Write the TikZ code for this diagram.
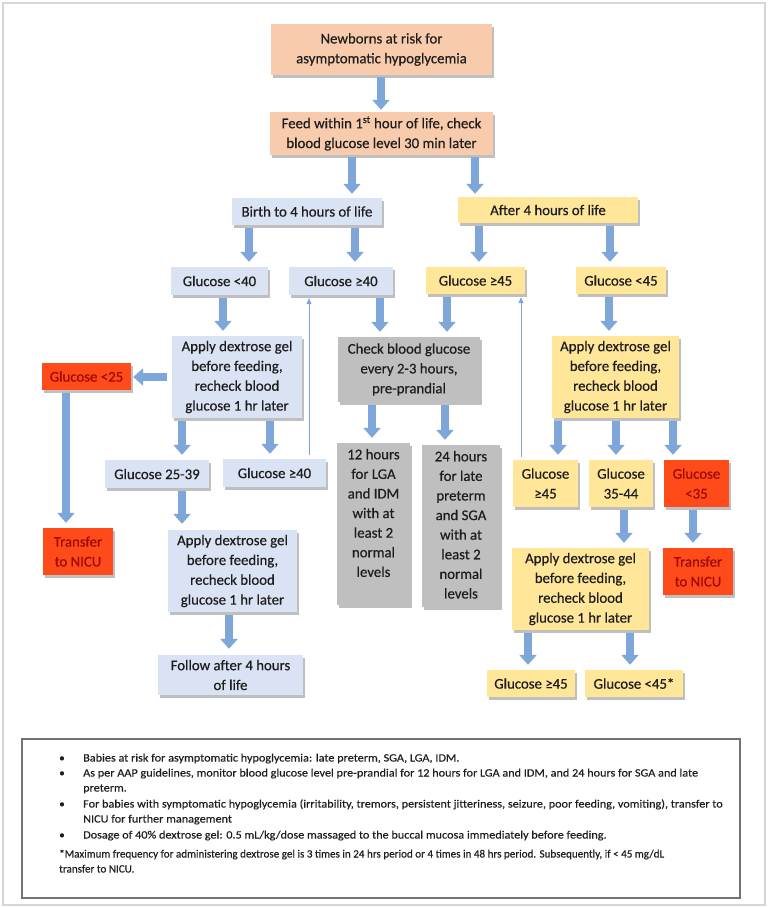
\documentclass[tikz,border=0pt]{standalone}
\usepackage{fontspec}
\setmainfont{Carlito}
\newfontfamily\boxfont{Carlito}[FakeBold=0.5]
\newfontfamily\notefont{Carlito}[FakeBold=0.3]
\usetikzlibrary{arrows.meta,shadows}
\definecolor{peach}{HTML}{F8CBAD}
\definecolor{lblue}{HTML}{DAE3F3}
\definecolor{lyellow}{HTML}{FFE699}
\definecolor{lgrey}{HTML}{BFBFBF}
\definecolor{lred}{HTML}{FF4A1A}
\definecolor{dred}{HTML}{9E0B0B}
\definecolor{arrowblue}{HTML}{7FA6D9}
\definecolor{framegrey}{HTML}{D6D6D6}
\definecolor{txt}{HTML}{1E1E1E}
\tikzset{
  sz/.style 2 args={minimum width=#1pt, minimum height=#2pt},
  box/.style={rectangle, inner sep=0pt, align=center, text=txt,
    font=\boxfont\fontsize{14.8}{19.8}\selectfont,
    drop shadow={shadow xshift=2pt, shadow yshift=-2.5pt, opacity=0.25, fill=black}},
  pbox/.style={box, fill=peach},
  bbox/.style={box, fill=lblue},
  ybox/.style={box, fill=lyellow},
  gbox/.style={box, fill=lgrey},
  rbox/.style={box, fill=lred, text=dred},
  boxtext/.style={inner sep=0pt, align=center, text=txt, font=\boxfont\fontsize{14.8}{19.6}\selectfont},
  blk/.style={draw=arrowblue, line width=7.5pt, -{Triangle[width=17pt,length=10pt]},
    shorten <=3pt, shorten >=5pt},
  thinarrow/.style={draw=arrowblue, line width=0.9pt, -{Triangle[width=5pt,length=6pt]},
    shorten <=3pt, shorten >=3pt},
  note/.style={inner sep=0pt, text=txt, font=\notefont\fontsize{11.2}{13}\selectfont},
}
\newcommand{\bulletline}[1]{\scalebox{1.09}[1]{#1}}
\newcommand{\footline}[1]{\scalebox{0.99}[1]{#1}}
\begin{document}
\begin{tikzpicture}[x=1pt,y=-1pt]
\useasboundingbox (0,0) rectangle (768,908);
\fill[white] (0,0) rectangle (768,908);
\draw[framegrey, line width=2pt] (3,3) rectangle (765,905);

% ---------- nodes ----------
\node[pbox, sz={221}{51}] (n1) at (381.5,49.5) {Newborns at risk for\\asymptomatic hypoglycemia};
\node[pbox, sz={223}{43}] (feed) at (381.5,133.5) {Feed within 1\textsuperscript{st} hour of life, check\\blood glucose level 30 min later};
\node[bbox, sz={150}{27}] (birth) at (307,211.5) {Birth to 4 hours of life};
\node[ybox, sz={180}{26}] (after) at (548,210) {After 4 hours of life};
\node[bbox, sz={97}{28}] (g40l) at (219.5,281) {Glucose <40};
\node[bbox, sz={104}{28}] (g40h) at (341,281) {Glucose ≥40};
\node[ybox, sz={99}{27}] (g45h) at (475.5,280.5) {Glucose ≥45};
\node[ybox, sz={90}{27}] (g45l) at (621,280.5) {Glucose <45};
\node[bbox, sz={130}{82}] (gel1) at (237,377) {Apply dextrose gel\\before feeding,\\recheck blood\\glucose 1 hr later};
\node[gbox, sz={142}{65}] (check) at (409,369.5) {Check blood glucose\\every 2-3 hours,\\pre-prandial};
\node[ybox, sz={127}{82}] (gelr1) at (615.5,377) {Apply dextrose gel\\before feeding,\\recheck blood\\glucose 1 hr later};
\node[rbox, sz={89}{27}] (g25) at (86.5,376.5) {Glucose <25};
\node[rbox, sz={70}{47}] (nicul) at (78,551.5) {Transfer\\to NICU};
\node[bbox, sz={104}{28}] (g2539) at (157,474) {Glucose 25-39};
\node[bbox, sz={103}{28}] (g40b) at (274.5,473) {Glucose ≥40};
\node[bbox, sz={129}{82}] (gel2) at (232.5,571) {Apply dextrose gel\\before feeding,\\recheck blood\\glucose 1 hr later};
\node[bbox, sz={145}{40}] (follow) at (230.5,675) {Follow after 4 hours\\of life};
\node[gbox, sz={73}{162}] (h12) at (373.5,524) {};
\node[boxtext, anchor=north] (h12t) at ([yshift=-6pt]h12.north) {12 hours\\for LGA\\and IDM\\with at\\least 2\\normal\\levels};
\node[gbox, sz={78}{162}] (h24) at (461,526) {};
\node[boxtext, anchor=north] (h24t) at ([yshift=-6pt]h24.north) {24 hours\\for late\\preterm\\and SGA\\with at\\least 2\\normal\\levels};
\node[ybox, sz={65}{47}] (g45s) at (545.5,483.5) {Glucose\\≥45};
\node[ybox, sz={64}{47}] (g3544) at (621,483.5) {Glucose\\35-44};
\node[rbox, sz={65}{47}] (g35) at (696.5,483.5) {Glucose\\<35};
\node[ybox, sz={137}{82}] (gelr2) at (580.5,589) {Apply dextrose gel\\before feeding,\\recheck blood\\glucose 1 hr later};
\node[rbox, sz={70}{47}] (nicur) at (698,571.5) {Transfer\\to NICU};
\node[ybox, sz={88}{27}] (g45b) at (531,683.5) {Glucose ≥45};
\node[ybox, sz={98}{27}] (g45s2) at (634,683.5) {Glucose <45*};

% ---------- arrow x positions ----------
\coordinate (x381) at (381,0);
\coordinate (x352) at (352,0);
\coordinate (x475) at (475,0);
\coordinate (x249) at (249,0);
\coordinate (x355) at (355,0);
\coordinate (x479) at (479,0);
\coordinate (x610) at (610,0);
\coordinate (x223) at (223,0);
\coordinate (x380) at (380,0);
\coordinate (x447) at (447,0);
\coordinate (x609) at (609,0);
\coordinate (x66) at (66,0);
\coordinate (x182) at (182,0);
\coordinate (x270) at (270,0);
\coordinate (x229) at (229,0);
\coordinate (x372) at (372,0);
\coordinate (x445) at (445,0);
\coordinate (x558) at (558,0);
\coordinate (x616) at (616,0);
\coordinate (x673) at (673,0);
\coordinate (x624) at (624,0);
\coordinate (x693) at (693,0);
\coordinate (x528) at (528,0);
\coordinate (x630) at (630,0);
\coordinate (x309) at (309,0);
\coordinate (x521) at (521,0);
\coordinate (y377) at (0,377);

% ---------- block arrows ----------
\draw[blk, shorten <=2pt, shorten >=2pt] (n1.south -| x381) -- (feed.north -| x381);
\draw[blk, shorten <=2pt, shorten >=4pt] (feed.south -| x352) -- (birth.north -| x352);
\draw[blk, shorten <=2pt, shorten >=3pt] (feed.south -| x475) -- (after.north -| x475);
\draw[blk] (birth.south -| x249) -- (g40l.north -| x249);
\draw[blk] (birth.south -| x355) -- (g40h.north -| x355);
\draw[blk] (after.south -| x479) -- (g45h.north -| x479);
\draw[blk] (after.south -| x610) -- (g45l.north -| x610);
\draw[blk] (g40l.south -| x223) -- (gel1.north -| x223);
\draw[blk] (g40h.south -| x380) -- (check.north -| x380);
\draw[blk] (g45h.south -| x447) -- (check.north -| x447);
\draw[blk] (g45l.south -| x609) -- (gelr1.north -| x609);
\draw[blk, shorten <=5pt, shorten >=2pt] (gel1.west |- y377) -- (g25.east |- y377);
\draw[blk] (g25.south -| x66) -- (nicul.north -| x66);
\draw[blk] (gel1.south -| x182) -- (g2539.north -| x182);
\draw[blk] (gel1.south -| x270) -- (g40b.north -| x270);
\draw[blk, shorten >=6pt] (g2539.south -| x182) -- (gel2.north -| x182);
\draw[blk, shorten >=6pt] (gel2.south -| x229) -- (follow.north -| x229);
\draw[blk] (check.south -| x372) -- (h12.north -| x372);
\draw[blk] (check.south -| x445) -- (h24.north -| x445);
\draw[blk] (gelr1.south -| x558) -- (g45s.north -| x558);
\draw[blk] (gelr1.south -| x616) -- (g3544.north -| x616);
\draw[blk] (gelr1.south -| x673) -- (g35.north -| x673);
\draw[blk] (g3544.south -| x624) -- (gelr2.north -| x624);
\draw[blk] (g35.south -| x693) -- (nicur.north -| x693);
\draw[blk] (gelr2.south -| x528) -- (g45b.north -| x528);
\draw[blk] (gelr2.south -| x630) -- (g45s2.north -| x630);

% ---------- thin arrows ----------
\draw[thinarrow, shorten <=4pt] (g40b.north -| x309) -- (g40h.south -| x309);
\draw[thinarrow] (g45s.north -| x521) -- (g45h.south -| x521);

% ---------- notes ----------
\node[rectangle, draw=black!55, line width=1.2pt, fill=white, sz={718}{159},
  drop shadow={shadow xshift=1pt, shadow yshift=-1pt, opacity=0.25, fill=black}] (notes) at (381,818.5) {};
\node[note, anchor=base] (b1) at (62,761.5) {•};
\node[note, anchor=base west] (l1) at (83,761.5) {\bulletline{Babies at risk for asymptomatic hypoglycemia: late preterm, SGA, LGA, IDM.}};
\node[note, anchor=base] (b2) at (62,776.5) {•};
\node[note, anchor=base west] (l2) at (83,776.5) {\bulletline{As per AAP guidelines, monitor blood glucose level pre-prandial for 12 hours for LGA and IDM, and 24 hours for SGA and late}};
\node[note, anchor=base west] (l2b) at (83,791.5) {\bulletline{preterm.}};
\node[note, anchor=base] (b3) at (62,807.5) {•};
\node[note, anchor=base west] (l3) at (83,807.5) {\bulletline{For babies with symptomatic hypoglycemia (irritability, tremors, persistent jitteriness, seizure, poor feeding, vomiting), transfer to}};
\node[note, anchor=base west] (l3b) at (83,822.5) {\bulletline{NICU for further management}};
\node[note, anchor=base] (b4) at (62,838.5) {•};
\node[note, anchor=base west] (l4) at (83,838.5) {\bulletline{Dosage of 40\% dextrose gel: 0.5 mL/kg/dose massaged to the buccal mucosa immediately before feeding.}};
\node[note, anchor=base west] (f1) at (59,857.5) {\footline{*Maximum frequency for administering dextrose gel is 3 times in 24 hrs period or 4 times in 48 hrs period. Subsequently, if < 45 mg/dL}};
\node[note, anchor=base west] (f2) at (59,872.5) {\footline{transfer to NICU.}};
\end{tikzpicture}
\end{document}
